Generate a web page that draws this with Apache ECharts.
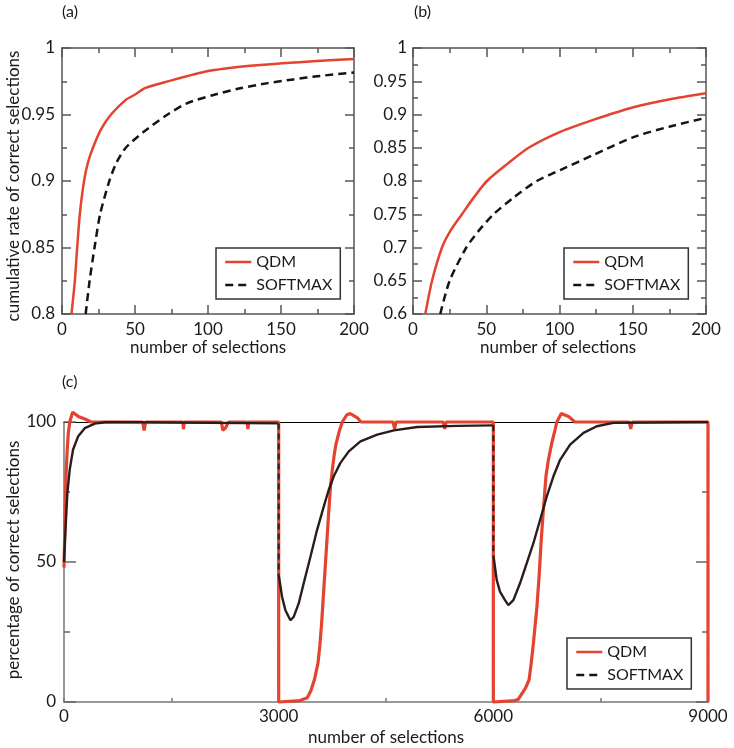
<!DOCTYPE html>
<html><head><meta charset="utf-8">
<script src="https://cdn.jsdelivr.net/npm/echarts@6/dist/echarts.min.js"></script>
<style>html,body{margin:0;padding:0;background:#fff;overflow:hidden}.w{position:absolute;left:0;top:0;width:734px;height:748px}</style>
</head><body>
<div class="w" id="axesAB"></div><div class="w" id="axesC"></div><div class="w" id="marks"></div>
<script>
// ---- Panel (a): cumulative rate of correct selections, first 200 selections ----
var qdmA = [[6.5,0.8],[8.8,0.825],[10.4,0.85],[12.2,0.875],[15.1,0.9],[17.8,0.914],[21.2,0.925],[26.8,0.939],[33.6,0.95],[43.7,0.961],[50,0.965],[57.2,0.97],[71.8,0.9747],[100,0.9827],[128.8,0.9867],[150.5,0.9885],[174.5,0.9902],[200,0.9917]];
var softA = [[16.2,0.8],[18.9,0.825],[22.3,0.85],[26.1,0.875],[32.4,0.9],[37.4,0.914],[43.7,0.925],[56,0.937],[71.8,0.9496],[85.5,0.9584],[103.8,0.9647],[122,0.9697],[140,0.9734],[158.5,0.9764],[176.7,0.979],[200,0.9815]];
// ---- Panel (b) ----
var qdmB = [[8.4,0.6],[13,0.65],[19.8,0.7],[25.5,0.725],[33.4,0.75],[41.4,0.775],[50.5,0.8],[64,0.825],[78.9,0.85],[100.5,0.874],[123,0.892],[150.5,0.911],[175.5,0.923],[200,0.932]];
var softB = [[18.6,0.6],[25,0.65],[36.4,0.7],[44.8,0.725],[55,0.75],[68.6,0.775],[84.5,0.8],[100.5,0.8165],[123,0.839],[150.5,0.866],[175.5,0.882],[200,0.895]];
// ---- Panel (c): percentage of correct selections ----
var qdmC = [[0,48],[10,60],[20,72],[30,82],[45,90],[60,96],[80,100],[120,103.5],[200,102],[300,101],[380,100],[1100,100],[1120,97],[1140,100],[1660,100],[1670,97.5],[1680,100],[2200,100],[2220,97],[2260,98],[2300,100],[2560,100],[2570,97.5],[2580,100],[3000,100],
  [3000,0],[3300,0.5],[3400,1.5],[3450,4],[3500,8],[3550,14],[3575,20],[3600,28],[3625,38],[3650,48],[3675,58],[3700,68],[3725,77],[3750,83],[3775,88],[3800,92],[3850,97],[3890,100],[3950,102.5],[4000,103],[4100,101.5],[4150,100],[4600,100],[4620,97.5],[4640,100],[5300,100],[5320,97.5],[5340,100],[6000,100],
  [6000,0],[6300,0.5],[6350,1],[6400,3],[6450,5],[6500,8],[6530,14],[6560,21],[6606,33],[6640,45],[6667,57],[6700,69],[6737,81],[6770,86.5],[6817,92.5],[6863,97.3],[6887,100],[6950,103],[7050,102],[7140,100],[7900,100],[7920,97.5],[7940,100],[9000,100],[9000,0]];
var softC1 = [[0,50],[23,62.7],[47,74.6],[80,83],[126,90.1],[196,94.8],[290,97.8],[430,99.4],[600,100],[2990,99.5]];
var softC2 = [[3003,45],[3047,37.6],[3094,32.8],[3164,29.2],[3210,30.4],[3280,35.2],[3350,42.4],[3444,51.9],[3537,61.5],[3630,69.8],[3700,75.8],[3770,80.6],[3863,85.4],[3980,89.5],[4143,93.1],[4377,95.5],[4610,97],[4937,98.2],[5500,98.6],[5990,98.8]];
var softC3 = [[6003,52],[6047,43.6],[6093,39.4],[6163,36.4],[6210,34.6],[6280,36.4],[6373,42.4],[6467,49.6],[6560,56.7],[6653,65],[6747,73.4],[6840,80.6],[6933,86.5],[7073,91.9],[7260,96.1],[7446,98.5],[7680,99.7],[9000,100]];
var softDrop1 = [[3000,99.5],[3000,45]];
var softDrop2 = [[6000,98.8],[6000,52]];

var xTicksAB = [0,200,50], yTicksA = [0.8,1,0.05], yTicksB = [0.6,1,0.05], xTicksC = [0,9000,3000], yTicksC = [0,100,50];
var xName = 'number of selections', yNameA = 'cumulative rate of correct selections', yNameC = 'percentage of correct selections';

var RED='#e4432f', BLK='#141414', DARK='#2a1c1c', BOX='#555', FONT='Lato', TXT='#1a1a1a';
var gridA = {left:62, top:48, width:292, height:266}, gridB = {left:413, top:48, width:293, height:266}, gridC = {left:64, top:422, width:644, height:280};

function ax(grid, pos, t, o){
  var base = {
    type:'value', gridIndex:grid, position:pos, min:t[0], max:t[1], interval:t[2],
    axisLine:{show:true, onZero:false, lineStyle:{color:BOX,width:1.5}},
    axisTick:{show:true, inside:true, length:9, lineStyle:{color:BOX,width:1.5}},
    minorTick:{show:true, splitNumber:2, length:5, lineStyle:{color:BOX,width:1.5}},
    splitLine:{show:false}, minorSplitLine:{show:false},
    axisLabel:{show:false, color:TXT, fontSize:17, fontFamily:FONT}
  };
  return echarts.util.merge(base, o||{}, true);
}
function plainNum(v){ return String(v); }
function txt(text, x, y, rot){
  return {type:'text', x:x, y:y, rotation:rot||0,
    style:{text:text, fontSize:17, fontFamily:FONT, fill:TXT, align:'center', verticalAlign:'middle', textAlign:'center', textVerticalAlign:'middle'}};
}
function ttl(text, left, top){ return {type:'text', left:left, top:top, style:{text:text, fontSize:16, fontFamily:FONT, fill:TXT}}; }

// ---- axes (a) and (b) ----
var optAxesAB = {
  animation:false, textStyle:{fontFamily:FONT},
  grid:[gridA, gridB],
  xAxis:[
    ax(0,'bottom',xTicksAB,{axisLabel:{show:true,margin:7}}), ax(0,'top',xTicksAB),
    ax(1,'bottom',xTicksAB,{axisLabel:{show:true,margin:7}}), ax(1,'top',xTicksAB)
  ],
  yAxis:[
    ax(0,'left',yTicksA,{axisLabel:{show:true,margin:7}}), ax(0,'right',yTicksA),
    ax(1,'left',yTicksB,{axisLabel:{show:true,margin:6}}), ax(1,'right',yTicksB)
  ],
  graphic:[txt(xName,208,348), txt(xName,558,348), txt(yNameA,14,186,Math.PI/2), ttl('(a)',62,4), ttl('(b)',414,4)]
};
// ---- axes (c) ----
var optAxesC = {
  animation:false, textStyle:{fontFamily:FONT},
  grid:[gridC],
  xAxis:[
    ax(0,'bottom',xTicksC,{axisLine:{lineStyle:{color:'#777'}}, axisTick:{length:4,lineStyle:{color:'#777'}}, minorTick:{length:4,lineStyle:{color:'#777'}}, axisLabel:{show:true,margin:6,formatter:plainNum}}),
    ax(0,'top',xTicksC,{axisLine:{lineStyle:{color:'#000',width:1}}, axisTick:{length:0.01,lineStyle:{color:'#000',width:1}}, minorTick:{length:0.01,lineStyle:{color:'#000',width:1}}})
  ],
  yAxis:[
    ax(0,'left',yTicksC,{axisLine:{lineStyle:{color:'#777'}}, axisTick:{length:12,lineStyle:{color:'#666'}}, minorTick:{length:6,lineStyle:{color:'#666'}}, axisLabel:{show:true,margin:8}}),
    ax(0,'right',yTicksC,{axisLine:{lineStyle:{color:'#333'}}, axisTick:{length:12,lineStyle:{color:'#666'}}, minorTick:{length:6,lineStyle:{color:'#666'}}})
  ],
  graphic:[txt(xName,386,738), txt(yNameC,14,560,Math.PI/2), ttl('(c)',62,374)]
};

// ---- data lines and legends ----
function hid(grid, t){ return {type:'value', gridIndex:grid, min:t[0], max:t[1], interval:t[2], show:false}; }
function legend(left, top){
  return {data:['QDM','SOFTMAX'], orient:'vertical', left:left, top:top, itemWidth:26, itemHeight:14, itemGap:5,
    padding:[5,8,5,8], borderColor:'#333', borderWidth:1.5, backgroundColor:'#fff', selectedMode:false,
    itemStyle:{opacity:0}, lineStyle:{width:2.5}, textStyle:{fontSize:16,color:TXT,fontFamily:FONT,lineHeight:18}};
}
function lineS(name, xi, data, color, width, dash, extra){
  var s = {name:name, type:'line', xAxisIndex:xi, yAxisIndex:xi, data:data, showSymbol:false, symbol:'none',
    lineStyle:{color:color, width:width, type:dash||'solid'}, itemStyle:{color:color}};
  return echarts.util.merge(s, extra||{}, true);
}
var optMarks = {
  animation:false, textStyle:{fontFamily:FONT},
  grid:[gridA, gridB, gridC],
  xAxis:[hid(0,xTicksAB), hid(1,xTicksAB), hid(2,xTicksC)],
  yAxis:[hid(0,yTicksA), hid(1,yTicksB), hid(2,yTicksC)],
  legend:[legend(216,248), legend(564,248), legend(567,638)],
  series:[
    lineS('QDM',0,qdmA,RED,2.5,null,{smooth:0.25}),
    lineS('SOFTMAX',0,softA,BLK,2.5,[8,5],{smooth:0.25}),
    lineS('QDM',1,qdmB,RED,2.5,null,{smooth:0.25}),
    lineS('SOFTMAX',1,softB,BLK,2.5,[8,5],{smooth:0.25}),
    lineS('QDM',2,qdmC,RED,3.2,null,{clip:false}),
    lineS('SOFTMAX',2,softDrop1,DARK,2,[6,4]),
    lineS('SOFTMAX',2,softDrop2,DARK,2,[6,4]),
    lineS('SOFTMAX',2,softC1,DARK,2.4),
    lineS('SOFTMAX',2,softC2,DARK,2.4),
    lineS('SOFTMAX',2,softC3,DARK,2.4)
  ]
};
echarts.init(document.getElementById('axesAB')).setOption(optAxesAB);
echarts.init(document.getElementById('axesC')).setOption(optAxesC);
echarts.init(document.getElementById('marks')).setOption(optMarks);
</script></body></html>
